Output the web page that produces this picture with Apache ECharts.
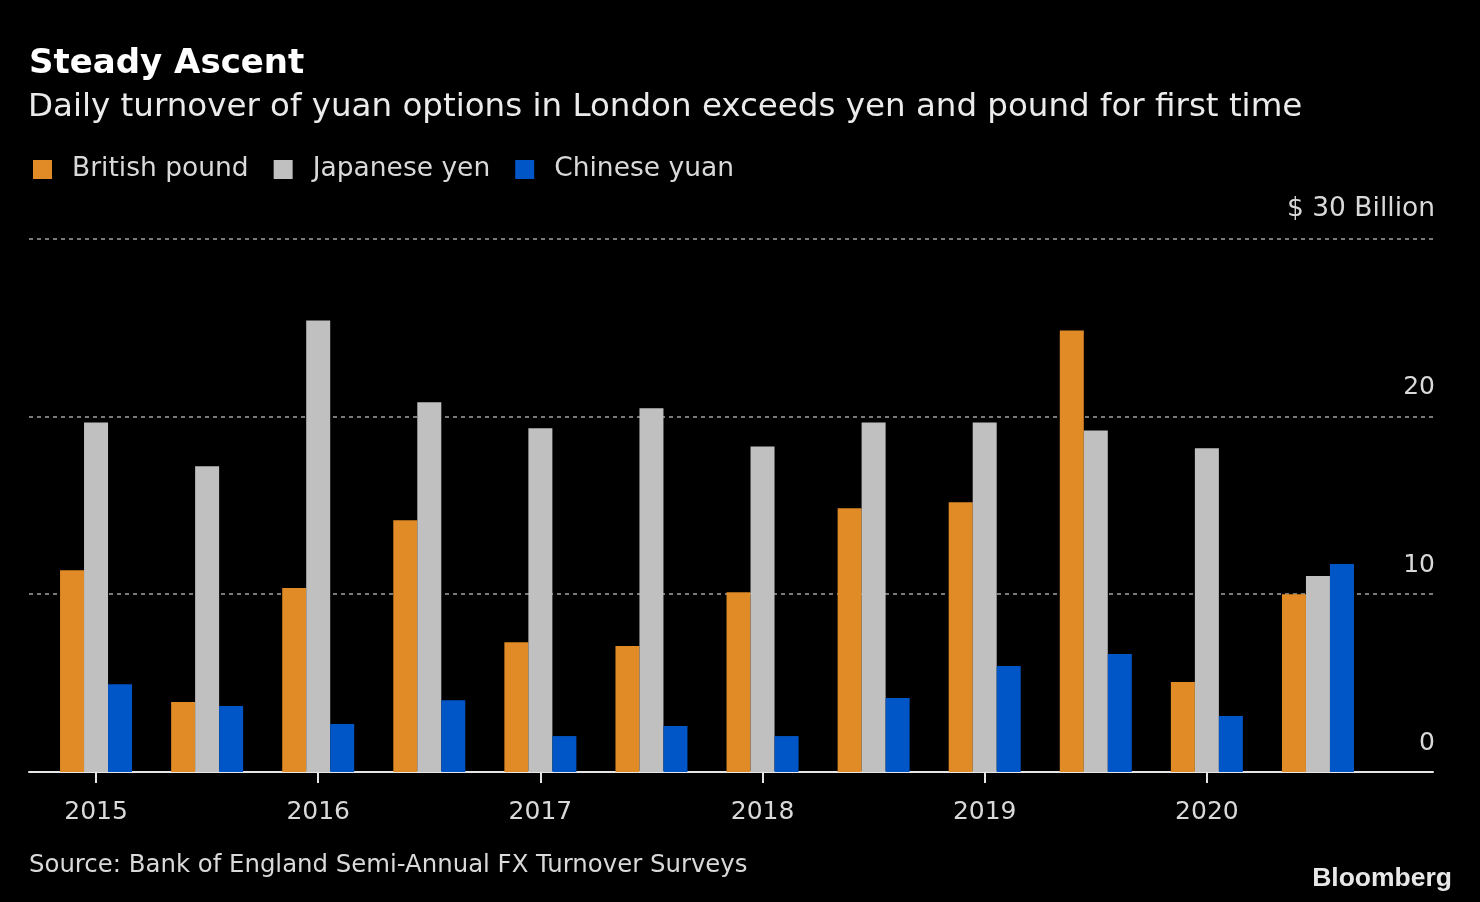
<!DOCTYPE html>
<html>
<head>
<meta charset="utf-8">
<script src="https://cdn.jsdelivr.net/npm/echarts@6/dist/echarts.min.js"></script>
<style>
html,body{margin:0;padding:0;background:#000;}
#chart{width:1480px;height:902px;}
</style>
</head>
<body>
<div id="chart"></div>
<script>
// Survey periods (semi-annual Bank of England FX turnover surveys)
const categories = ['Apr 2015','Oct 2015','Apr 2016','Oct 2016','Apr 2017','Oct 2017','Apr 2018','Oct 2018','Apr 2019','Oct 2019','Apr 2020','Oct 2020'];
const britishPound = [11.35, 3.93, 10.34, 14.16, 7.30, 7.08, 10.11, 14.83, 15.17, 24.83, 5.06, 10.0];
const japaneseYen  = [19.66, 17.19, 25.39, 20.79, 19.33, 20.45, 18.31, 19.66, 19.66, 19.21, 18.20, 11.02];
const chineseYuan  = [4.94, 3.71, 2.70, 4.04, 2.02, 2.58, 2.02, 4.16, 5.96, 6.63, 3.15, 11.70];
const yTicks = [0, 10, 20, 30];

const FONT = 'DejaVu Sans';
const chart = echarts.init(document.getElementById('chart'), null, {renderer: 'canvas'});

chart.setOption({
  backgroundColor: '#000',
  animation: false,
  textStyle: {fontFamily: FONT},
  title: [
    {text: 'Steady Ascent', left: 24, top: 42,
     textStyle: {color: '#ffffff', fontSize: 34, fontWeight: 'bold', fontFamily: FONT}},
    {text: 'Daily turnover of yuan options in London exceeds yen and pound for first time', left: 23, top: 86,
     textStyle: {color: '#ebebeb', fontSize: 32.5, fontWeight: 'normal', fontFamily: FONT}},
    {text: 'Source: Bank of England Semi-Annual FX Turnover Surveys', left: 24, top: 849,
     textStyle: {color: '#d9d9d9', fontSize: 24.4, fontWeight: 'normal', fontFamily: FONT}},
    {text: 'Bloomberg', right: 23, top: 860,
     textStyle: {color: '#e8e8e8', fontSize: 26.5, fontWeight: 'bold', fontFamily: 'Liberation Sans'}}
  ],
  legend: {
    left: 28, top: 151,
    icon: 'rect', itemWidth: 19, itemHeight: 19, itemGap: 25,
    textStyle: {color: '#d9d9d9', fontSize: 26.5, fontFamily: FONT, padding: [0, 0, 0, 15]},
    data: ['British pound', 'Japanese yen', 'Chinese yuan']
  },
  grid: [
    {left: 29, right: 47, top: 238.5, bottom: 130},
    {left: 40.5, right: 106.5, top: 238.5, bottom: 130}
  ],
  xAxis: [
    {gridIndex: 0, type: 'category', data: [''],
     axisLine: {show: true, lineStyle: {color: '#e6e6e6', width: 2}},
     axisTick: {show: false}, axisLabel: {show: false}, splitLine: {show: false}},
    {gridIndex: 1, type: 'category', data: categories,
     axisLine: {show: false},
     axisTick: {show: true, alignWithLabel: true, interval: 1, length: 11, lineStyle: {color: '#e6e6e6', width: 2}},
     axisLabel: {interval: 1, color: '#d9d9d9', fontSize: 25, fontFamily: FONT, margin: 28,
       formatter: v => v.split(' ')[1]}}
  ],
  yAxis: [
    {gridIndex: 0, type: 'value', position: 'right', min: yTicks[0], max: yTicks[yTicks.length - 1], interval: 10,
     axisLine: {show: false}, axisTick: {show: false},
     splitLine: {show: true, lineStyle: {color: '#7a7a7a', width: 2, type: [4, 4]}},
     axisLabel: {inside: true, margin: -2, color: '#d9d9d9', fontSize: 25, fontFamily: FONT,
       verticalAlign: 'bottom', padding: [0, 0, 16, 0],
       formatter: v => v === 30 ? '{b|$ 30 Billion}' : String(v),
       rich: {b: {color: '#d9d9d9', fontSize: 26.5, fontFamily: FONT}}}},
    {gridIndex: 1, type: 'value', min: 0, max: 30, show: false, splitLine: {show: false}}
  ],
  series: [
    {name: 'British pound', type: 'bar', xAxisIndex: 1, yAxisIndex: 1, data: britishPound,
     barWidth: 24, barGap: '0%', itemStyle: {color: '#e08b26'}},
    {name: 'Japanese yen', type: 'bar', xAxisIndex: 1, yAxisIndex: 1, data: japaneseYen,
     barWidth: 24, barGap: '0%', itemStyle: {color: '#c0c0c0'}},
    {name: 'Chinese yuan', type: 'bar', xAxisIndex: 1, yAxisIndex: 1, data: chineseYuan,
     barWidth: 24, barGap: '0%', itemStyle: {color: '#0056c6'}}
  ]
});
</script>
</body>
</html>
